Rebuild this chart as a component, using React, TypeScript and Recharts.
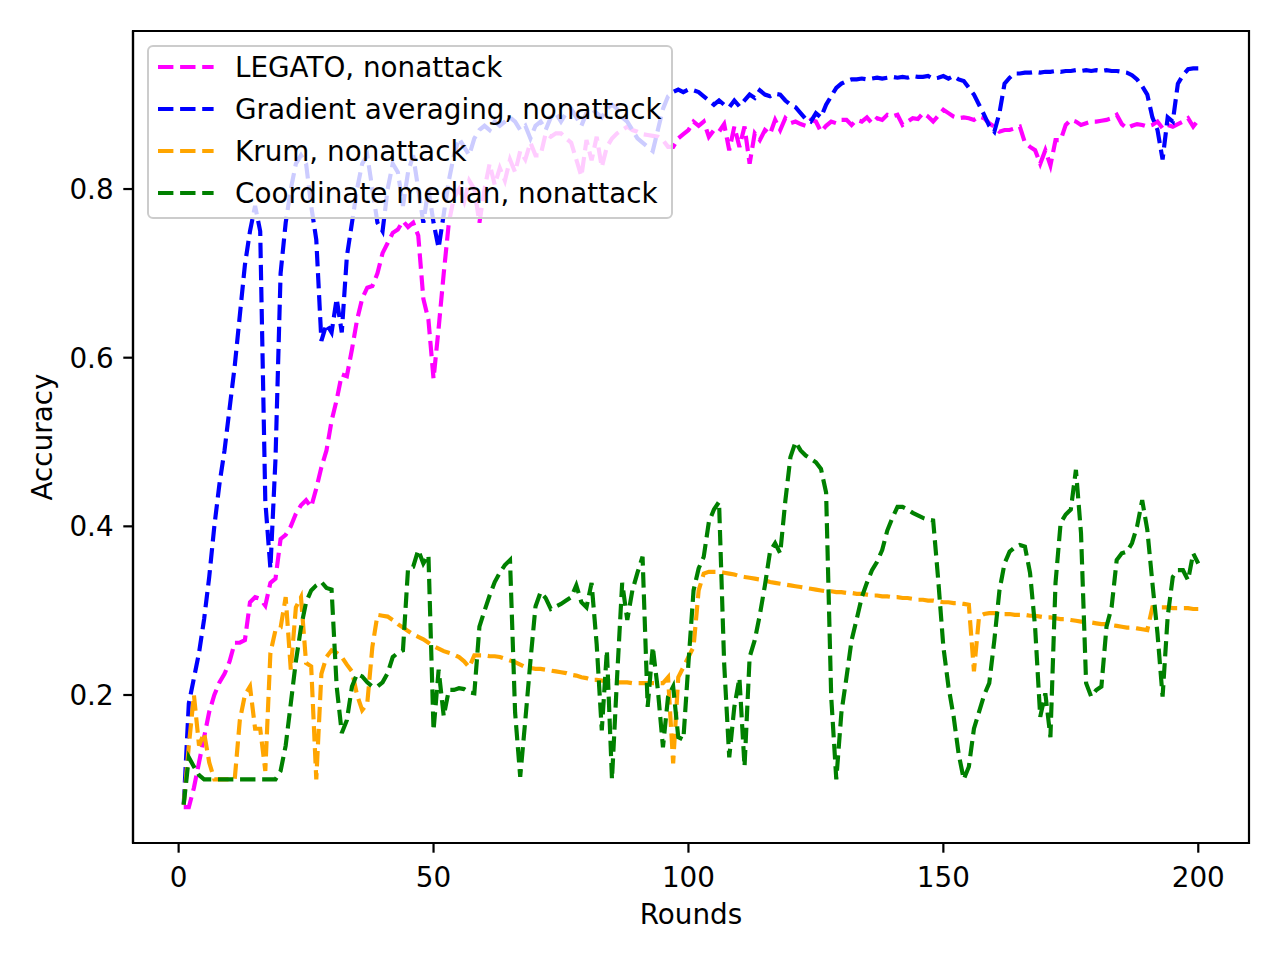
import { Line, LineChart, ReferenceArea, XAxis, YAxis } from 'recharts';

// accuracy per round (rounds 1..200)
const ROUNDS = Array.from({ length: 200 }, (_, i) => i + 1);

const legato = [
  0.067, 0.067, 0.09, 0.12, 0.15, 0.18, 0.2, 0.215, 0.225, 0.24,
  0.262, 0.262, 0.265, 0.31, 0.316, 0.314, 0.306, 0.333, 0.338, 0.385,
  0.39, 0.4, 0.415, 0.425, 0.431, 0.423, 0.445, 0.47, 0.49, 0.525,
  0.55, 0.58, 0.578, 0.61, 0.645, 0.67, 0.683, 0.685, 0.7, 0.724,
  0.736, 0.748, 0.752, 0.762, 0.755, 0.76, 0.745, 0.67, 0.645, 0.575,
  0.635, 0.7, 0.76, 0.79, 0.8, 0.785, 0.81, 0.8, 0.76, 0.8,
  0.83, 0.805, 0.825, 0.81, 0.835, 0.82, 0.845, 0.835, 0.855, 0.84,
  0.84, 0.866, 0.862, 0.866, 0.866, 0.86, 0.855, 0.835, 0.815, 0.858,
  0.834, 0.862, 0.826, 0.85, 0.86, 0.866, 0.87, 0.874, 0.87, 0.868,
  0.865, 0.864, 0.863, 0.862, 0.858, 0.85, 0.85, 0.86, 0.865, 0.87,
  0.88, 0.875, 0.88, 0.862, 0.87, 0.868, 0.877, 0.846, 0.874, 0.85,
  0.874, 0.83, 0.866, 0.858, 0.87, 0.865, 0.882, 0.87, 0.884, 0.878,
  0.88, 0.877, 0.875, 0.882, 0.88, 0.868, 0.875, 0.88, 0.878, 0.882,
  0.882, 0.876, 0.882, 0.88, 0.885, 0.878, 0.884, 0.882, 0.888, 0.886,
  0.888, 0.876, 0.88, 0.884, 0.883, 0.89, 0.886, 0.88, 0.887, 0.894,
  0.89, 0.886, 0.884, 0.885, 0.884, 0.882, 0.886, 0.884, 0.878, 0.874,
  0.868, 0.87, 0.87, 0.872, 0.874, 0.855, 0.85, 0.846, 0.83, 0.846,
  0.828, 0.858, 0.858, 0.876, 0.882, 0.88, 0.876, 0.878, 0.88, 0.88,
  0.881, 0.882, 0.884, 0.888, 0.877, 0.872, 0.875, 0.877, 0.876, 0.874,
  0.876, 0.88, 0.872, 0.876, 0.874, 0.877, 0.88, 0.884, 0.874, 0.882,
];

const gradAvg = [
  0.07, 0.19, 0.22, 0.25, 0.29, 0.34, 0.4, 0.45, 0.49, 0.54,
  0.59, 0.65, 0.71, 0.75, 0.78, 0.75, 0.43, 0.35, 0.48, 0.7,
  0.76, 0.8, 0.83, 0.84, 0.83, 0.78, 0.74, 0.62, 0.64, 0.63,
  0.67, 0.63, 0.72, 0.76, 0.8, 0.83, 0.84, 0.8, 0.76, 0.75,
  0.8, 0.83, 0.82, 0.78, 0.82, 0.84, 0.8, 0.76, 0.8, 0.76,
  0.73, 0.77, 0.81, 0.84, 0.86, 0.85, 0.84, 0.86, 0.87, 0.875,
  0.87, 0.88, 0.875, 0.88, 0.885, 0.88, 0.87, 0.875, 0.86, 0.875,
  0.88, 0.87, 0.885, 0.89, 0.88, 0.89, 0.895, 0.885, 0.875, 0.89,
  0.895, 0.89, 0.885, 0.895, 0.9, 0.895, 0.885, 0.88, 0.87, 0.86,
  0.855, 0.85, 0.845, 0.87, 0.895, 0.91, 0.915, 0.918, 0.915, 0.918,
  0.917, 0.915, 0.91, 0.905, 0.9, 0.905, 0.9, 0.897, 0.905, 0.898,
  0.905, 0.912, 0.908, 0.917, 0.912, 0.91, 0.913, 0.912, 0.905, 0.9,
  0.897, 0.89, 0.883, 0.88, 0.89, 0.885, 0.9, 0.91, 0.92, 0.925,
  0.928, 0.93, 0.93, 0.931, 0.93, 0.931, 0.932, 0.931, 0.932, 0.933,
  0.932, 0.933, 0.932, 0.934, 0.933, 0.933, 0.934, 0.931, 0.932, 0.934,
  0.931, 0.934, 0.93, 0.928, 0.92, 0.912, 0.9, 0.888, 0.875, 0.868,
  0.89, 0.925, 0.932, 0.937, 0.937, 0.938, 0.938, 0.939, 0.938, 0.939,
  0.939, 0.94, 0.939, 0.94, 0.94, 0.941, 0.94, 0.941, 0.94, 0.941,
  0.94, 0.941, 0.94, 0.94, 0.939, 0.938, 0.935, 0.93, 0.922, 0.912,
  0.885, 0.87, 0.835, 0.885, 0.88, 0.925, 0.935, 0.942, 0.943, 0.943,
];

const krum = [
  0.07, 0.14, 0.2, 0.14, 0.155, 0.12, 0.1, 0.1, 0.1, 0.1,
  0.1, 0.17, 0.2, 0.21, 0.16, 0.16, 0.11, 0.25, 0.277, 0.28,
  0.316, 0.23, 0.304, 0.316, 0.238, 0.234, 0.1, 0.225, 0.245, 0.253,
  0.25, 0.245, 0.236, 0.228, 0.2, 0.182, 0.19, 0.257, 0.295, 0.294,
  0.293, 0.289, 0.284, 0.28, 0.276, 0.272, 0.269, 0.266, 0.262, 0.258,
  0.255, 0.252, 0.25, 0.248, 0.245, 0.24, 0.233, 0.247, 0.247, 0.247,
  0.246, 0.246, 0.245, 0.243, 0.241, 0.239, 0.236, 0.233, 0.232, 0.231,
  0.231, 0.23, 0.229, 0.228, 0.227, 0.226, 0.224, 0.223, 0.221, 0.22,
  0.218, 0.218, 0.217, 0.217, 0.216, 0.215, 0.215, 0.215, 0.214, 0.214,
  0.214, 0.214, 0.214, 0.214, 0.214, 0.221, 0.119, 0.221, 0.233, 0.245,
  0.257, 0.324, 0.344, 0.346, 0.346, 0.346, 0.345, 0.344, 0.343, 0.341,
  0.34, 0.339, 0.338, 0.337, 0.336, 0.334, 0.333, 0.332, 0.331, 0.33,
  0.329, 0.328, 0.327, 0.326, 0.325, 0.324, 0.323, 0.323, 0.322, 0.322,
  0.321, 0.321, 0.32, 0.32, 0.319, 0.318, 0.318, 0.317, 0.317, 0.316,
  0.316, 0.315, 0.315, 0.314, 0.313, 0.313, 0.312, 0.312, 0.311, 0.31,
  0.31, 0.309, 0.309, 0.308, 0.307, 0.228, 0.293, 0.296, 0.297, 0.297,
  0.297, 0.296, 0.296, 0.295, 0.295, 0.295, 0.294, 0.294, 0.293, 0.292,
  0.292, 0.291, 0.29, 0.29, 0.289, 0.288, 0.287, 0.287, 0.286, 0.285,
  0.284, 0.284, 0.283, 0.282, 0.281, 0.28, 0.28, 0.279, 0.278, 0.277,
  0.304, 0.304, 0.304, 0.304, 0.303, 0.303, 0.303, 0.303, 0.302, 0.302,
];

const coordMedian = [
  0.07, 0.126, 0.115, 0.105, 0.1, 0.1, 0.1, 0.1, 0.1, 0.1,
  0.1, 0.1, 0.1, 0.1, 0.1, 0.1, 0.1, 0.1, 0.1, 0.11,
  0.14, 0.19, 0.24, 0.28, 0.31, 0.324, 0.33, 0.334, 0.327, 0.325,
  0.21, 0.155, 0.17, 0.21, 0.225, 0.222, 0.215, 0.21, 0.21, 0.215,
  0.226, 0.245, 0.25, 0.253, 0.35, 0.352, 0.372, 0.356, 0.366, 0.158,
  0.23, 0.175, 0.206, 0.206, 0.208, 0.207, 0.203, 0.202, 0.281, 0.3,
  0.318, 0.334, 0.345, 0.354, 0.36, 0.179, 0.103, 0.17, 0.24, 0.305,
  0.322, 0.315, 0.302, 0.305, 0.308, 0.312, 0.316, 0.33, 0.31, 0.304,
  0.333, 0.26, 0.158, 0.253, 0.1, 0.221, 0.333, 0.289, 0.324, 0.345,
  0.364, 0.186, 0.257, 0.206, 0.138, 0.198, 0.21, 0.15, 0.147, 0.238,
  0.324, 0.35, 0.364, 0.405, 0.42, 0.429, 0.238, 0.126, 0.186, 0.22,
  0.115, 0.245, 0.265, 0.295, 0.33, 0.37, 0.38, 0.368, 0.43, 0.482,
  0.5, 0.49, 0.484, 0.48, 0.476, 0.468, 0.44, 0.198, 0.1, 0.179,
  0.221, 0.265, 0.29, 0.316, 0.333, 0.348, 0.358, 0.372, 0.395, 0.41,
  0.423, 0.423, 0.42, 0.416, 0.413, 0.41, 0.408, 0.407, 0.336, 0.257,
  0.21, 0.175, 0.13, 0.1, 0.115, 0.16, 0.18, 0.2, 0.214, 0.265,
  0.324, 0.356, 0.37, 0.375, 0.378, 0.376, 0.345, 0.28, 0.174, 0.202,
  0.15, 0.333, 0.404, 0.414, 0.42, 0.467, 0.392, 0.214, 0.198, 0.206,
  0.21, 0.281, 0.304, 0.36, 0.368, 0.37, 0.38, 0.4, 0.431, 0.396,
  0.333, 0.273, 0.198, 0.293, 0.34, 0.348, 0.348, 0.336, 0.368, 0.356,
];

const X_TICKS = [0, 50, 100, 150, 200];
const Y_TICKS = [0.2, 0.4, 0.6, 0.8];
const X_DOMAIN = [-8.95, 209.95];
const Y_DOMAIN = [0.0245, 0.9874];

const SERIES = [
  { key: 'legato', name: 'LEGATO, nonattack', color: '#ff00ff' },
  { key: 'gradAvg', name: 'Gradient averaging, nonattack', color: '#0000ff' },
  { key: 'krum', name: 'Krum, nonattack', color: '#ffa500' },
  { key: 'coordMedian', name: 'Coordinate median, nonattack', color: '#008000' },
];

const data = ROUNDS.map((round, i) => ({
  round,
  legato: legato[i],
  gradAvg: gradAvg[i],
  krum: krum[i],
  coordMedian: coordMedian[i],
}));

const FONT = 'DejaVu Sans, sans-serif';
const FS = 27.8;
const DASH = '15.4 6.7';
const LW = 4.17;
const AXIS = { stroke: '#000', strokeWidth: 2.2 };

const App = () => {
  return (
    <div style={{ position: 'absolute', left: 0, top: 0, width: 1280, height: 960, background: '#fff', fontFamily: FONT }}>
      <LineChart width={1280} height={960} data={data} margin={{ top: 31, right: 31, bottom: 87, left: 53 }}>
        <XAxis
          dataKey="round"
          type="number"
          domain={X_DOMAIN}
          ticks={X_TICKS}
          allowDataOverflow
          height={30}
          tickSize={9.7}
          tickMargin={15}
          axisLine={AXIS}
          tickLine={AXIS}
          tick={{ fill: '#000', fontSize: FS, fontFamily: FONT }}
          label={{ value: 'Rounds', position: 'bottom', offset: 31, fill: '#000', fontSize: FS, fontFamily: FONT }}
        />
        <YAxis
          type="number"
          domain={Y_DOMAIN}
          ticks={Y_TICKS}
          allowDataOverflow
          width={80}
          tickSize={9.7}
          tickMargin={9.7}
          axisLine={AXIS}
          tickLine={AXIS}
          tickFormatter={(v: number) => v.toFixed(1)}
          tick={{ fill: '#000', fontSize: FS, fontFamily: FONT }}
          label={{ value: 'Accuracy', angle: -90, position: 'insideLeft', offset: -11, fill: '#000', fontSize: FS, fontFamily: FONT, style: { textAnchor: 'middle' } }}
        />
        {/* full box frame around the plot area */}
        <ReferenceArea
          x1={X_DOMAIN[0]} x2={X_DOMAIN[1]} y1={Y_DOMAIN[0]} y2={Y_DOMAIN[1]}
          fill="none" fillOpacity={0} stroke="#000" strokeWidth={2.2} ifOverflow="visible"
        />
        {SERIES.map((s) => (
          <Line
            key={s.key}
            type="linear"
            dataKey={s.key}
            name={s.name}
            stroke={s.color}
            strokeWidth={LW}
            strokeDasharray={DASH}
            dot={false}
            activeDot={false}
            isAnimationActive={false}
          />
        ))}
      </LineChart>

      {/* legend box, drawn like matplotlib's (semi-transparent white, rounded, grey edge) */}
      <div style={{
        position: 'absolute', left: 147, top: 45, width: 526, height: 174, boxSizing: 'border-box',
        border: '2.2px solid #cccccc', borderRadius: 6, background: 'rgba(255,255,255,0.8)',
      }} />
      {SERIES.map((s, i) => (
        <div key={s.key} style={{ position: 'absolute', left: 0, top: 47 + 42 * i, height: 42, width: 700 }}>
          <svg style={{ position: 'absolute', left: 158, top: 15 }} width={56} height={10}>
            <line x1={0} y1={5} x2={55.6} y2={5} stroke={s.color} strokeWidth={LW} strokeDasharray={DASH} />
          </svg>
          <span style={{ position: 'absolute', left: 235, top: 0, lineHeight: '42px', fontSize: FS, fontFamily: FONT, color: '#000', whiteSpace: 'nowrap' }}>
            {s.name}
          </span>
        </div>
      ))}
    </div>
  );
};

export default App;
